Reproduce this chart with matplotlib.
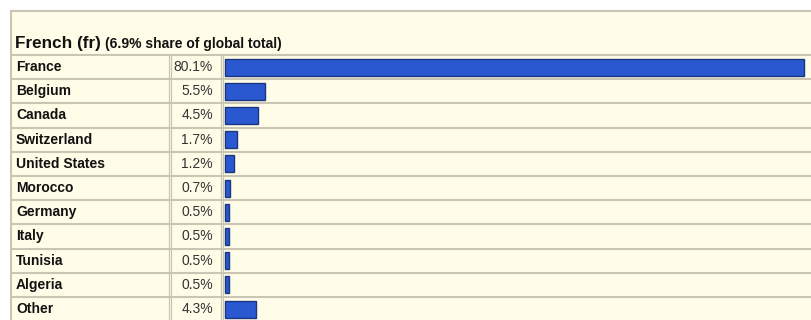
import matplotlib.pyplot as plt
import matplotlib.transforms as mtransforms
from matplotlib.patches import Rectangle
from matplotlib.lines import Line2D

# -- data -- #
countries = ['France', 'Belgium', 'Canada', 'Switzerland', 'United States',
             'Morocco', 'Germany', 'Italy', 'Tunisia', 'Algeria', 'Other']
shares = [80.1, 5.5, 4.5, 1.7, 1.2, 0.7, 0.5, 0.5, 0.5, 0.5, 4.3]
share_labels = ['80.1%', '5.5%', '4.5%', '1.7%', '1.2%', '0.7%',
                '0.5%', '0.5%', '0.5%', '0.5%', '4.3%']
title_main = 'French (fr)'
title_sub = '(6.9% share of global total)'

plt.rcParams['font.family'] = ['Liberation Sans', 'DejaVu Sans']

W, H = 812, 320
CREAM = '#fffde8'
LINE = '#c9c6b4'
BAR = '#2a58d0'
BAR_EDGE = '#1b357f'

fig = plt.figure(figsize=(W / 100, H / 100), dpi=100)
fig.patch.set_facecolor('white')

def px(x, y):
    # pixel (top-left origin) -> figure fraction
    return x / W, 1 - y / H

# cream panel (behind the axes)
x0, y0 = px(11, 11)
bg = fig.add_axes([0, 0, 1, 1], zorder=-5)
bg.axis('off')
bg.set_xlim(0, 1)
bg.set_ylim(0, 1)
bg.add_patch(Rectangle((x0, 0), 1 - x0, y0, facecolor=CREAM, edgecolor='none'))
bg.plot([x0, 1], [y0, y0], color=LINE, lw=1.5)
bg.plot([x0, x0], [0, y0], color=LINE, lw=1.5)

# bar column axes
n = len(countries)
row_top, row_h = 55, 24.2
bar_left = 222
ax = fig.add_axes([bar_left / W, 1 - (row_top + n * row_h) / H,
                   (W - bar_left) / W, n * row_h / H])
ax.set_facecolor('none')
px_per_pct = 579 / 80.1
ax.set_xlim(-3 / px_per_pct, (W - bar_left - 3) / px_per_pct)
ax.set_ylim(n - 0.5, -0.5)
ax.axis('off')

ax.barh(range(n), shares, height=0.7, color=BAR, edgecolor=BAR_EDGE, lw=1.0, zorder=3)

tr = mtransforms.blended_transform_factory(fig.transFigure, ax.transData)
for i, (c, lab) in enumerate(zip(countries, share_labels)):
    ax.text(16 / W, i, c, transform=tr, ha='left', va='center',
            fontsize=10, fontweight='bold', color='#111111')
    ax.text(213 / W, i, lab, transform=tr, ha='right', va='center',
            fontsize=10, color='#333333')

# cell borders
for i in range(n + 1):
    yb = i - 0.5
    ax.add_line(Line2D([12 / W, 1], [yb, yb], transform=tr, color=LINE, lw=1.5, clip_on=False))
for xv in [169, 171, 221, 223]:
    ax.add_line(Line2D([xv / W, xv / W], [-0.5, n - 0.5], transform=tr,
                       color=LINE, lw=0.9, clip_on=False))

# title
tx, ty = px(15, 48)
t = fig.text(tx, ty, title_main, fontsize=12.3, fontweight='bold', color='#111111',
             ha='left', va='baseline')
fig.canvas.draw()
bb = t.get_window_extent()
fig.text(bb.x1 / W + 4 / W, ty, title_sub, fontsize=10, fontweight='bold',
         color='#111111', ha='left', va='baseline')

fig.savefig('out.png', dpi=100, facecolor=fig.get_facecolor())
